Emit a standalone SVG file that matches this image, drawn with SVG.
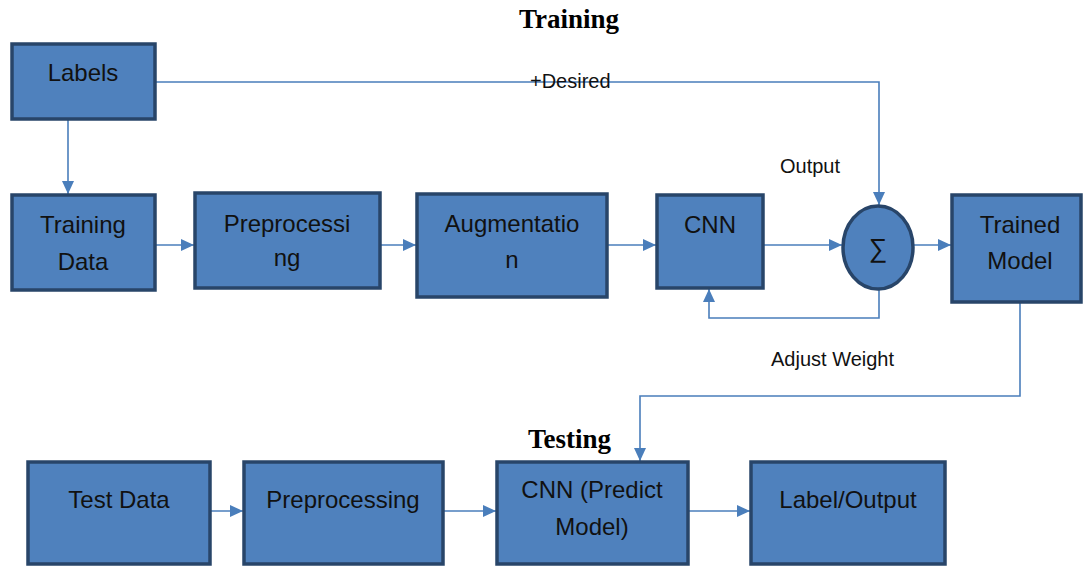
<svg xmlns="http://www.w3.org/2000/svg" width="1083" height="566" viewBox="0 0 1083 566">
  <style>
    .box { fill: #4f81bd; stroke: #284569; stroke-width: 3.5; }
    .lbl { font-family: "Liberation Sans", Arial, sans-serif; font-size: 24px; fill: #111111; text-anchor: middle; }
    .note { font-family: "Liberation Sans", Arial, sans-serif; font-size: 20px; fill: #111111; }
    .title { font-family: "Liberation Serif", "Times New Roman", serif; font-weight: bold; font-size: 27px; fill: #000000; }
    .wire { fill: none; stroke: #4a7ebb; stroke-width: 1.6; }
  </style>
  <defs>
    <marker id="arrow" markerUnits="userSpaceOnUse" markerWidth="14" markerHeight="14" viewBox="0 0 14 14" refX="13" refY="7" orient="auto">
      <path d="M0,1 L13,7 L0,13 Z" fill="#4a7ebb"/>
    </marker>
  </defs>
  <rect width="1083" height="566" fill="#ffffff"/>

  <!-- section titles -->
  <text class="title" x="519" y="28">Training</text>
  <text class="title" x="528" y="448">Testing</text>

  <!-- connectors -->
  <g id="connectors">
    <path class="wire" d="M68,119 V194" marker-end="url(#arrow)"/>
    <path class="wire" d="M155,82 H879 V205" marker-end="url(#arrow)"/>
    <path class="wire" d="M155,245 H194" marker-end="url(#arrow)"/>
    <path class="wire" d="M380,245 H416" marker-end="url(#arrow)"/>
    <path class="wire" d="M607,245 H656" marker-end="url(#arrow)"/>
    <path class="wire" d="M763,245 H842" marker-end="url(#arrow)"/>
    <path class="wire" d="M913,245 H951" marker-end="url(#arrow)"/>
    <path class="wire" d="M879,289 V318 H709 V289" marker-end="url(#arrow)"/>
    <path class="wire" d="M1020,302 V396 H640 V461" marker-end="url(#arrow)"/>
    <path class="wire" d="M210,511 H243" marker-end="url(#arrow)"/>
    <path class="wire" d="M443,511 H496" marker-end="url(#arrow)"/>
    <path class="wire" d="M688,511 H750" marker-end="url(#arrow)"/>
  </g>

  <!-- connector labels -->
  <text class="note" x="530" y="88">+Desired</text>
  <text class="note" x="780" y="173">Output</text>
  <text class="note" x="771" y="366">Adjust Weight</text>

  <!-- training pipeline -->
  <g id="labels">
    <rect class="box" x="12" y="44" width="143" height="75"/>
    <text class="lbl" x="83" y="81">Labels</text>
  </g>
  <g id="training-data">
    <rect class="box" x="12" y="195" width="143" height="95"/>
    <text class="lbl" x="83" y="233">Training</text>
    <text class="lbl" x="83" y="270">Data</text>
  </g>
  <g id="preprocessing">
    <rect class="box" x="195" y="193" width="185" height="95"/>
    <text class="lbl" x="287" y="232">Preprocessi</text>
    <text class="lbl" x="287" y="266">ng</text>
  </g>
  <g id="augmentation">
    <rect class="box" x="417" y="194" width="190" height="103"/>
    <text class="lbl" x="512" y="232">Augmentatio</text>
    <text class="lbl" x="512" y="268">n</text>
  </g>
  <g id="cnn">
    <rect class="box" x="657" y="195" width="106" height="93"/>
    <text class="lbl" x="710" y="233">CNN</text>
  </g>
  <g id="sum">
    <ellipse class="box" cx="878" cy="247.5" rx="35" ry="41.5"/>
    <text class="lbl" x="878" y="257" style="font-size:26px">∑</text>
  </g>
  <g id="trained-model">
    <rect class="box" x="952" y="195" width="129" height="107"/>
    <text class="lbl" x="1020" y="233">Trained</text>
    <text class="lbl" x="1020" y="269">Model</text>
  </g>

  <!-- testing pipeline -->
  <g id="test-data">
    <rect class="box" x="28" y="462" width="182" height="102"/>
    <text class="lbl" x="119" y="508">Test Data</text>
  </g>
  <g id="test-preprocessing">
    <rect class="box" x="244" y="462" width="199" height="102"/>
    <text class="lbl" x="343" y="508">Preprocessing</text>
  </g>
  <g id="cnn-predict">
    <rect class="box" x="497" y="462" width="191" height="102"/>
    <text class="lbl" x="592" y="498">CNN (Predict</text>
    <text class="lbl" x="592" y="535">Model)</text>
  </g>
  <g id="label-output">
    <rect class="box" x="751" y="462" width="194" height="102"/>
    <text class="lbl" x="848" y="508">Label/Output</text>
  </g>
</svg>
